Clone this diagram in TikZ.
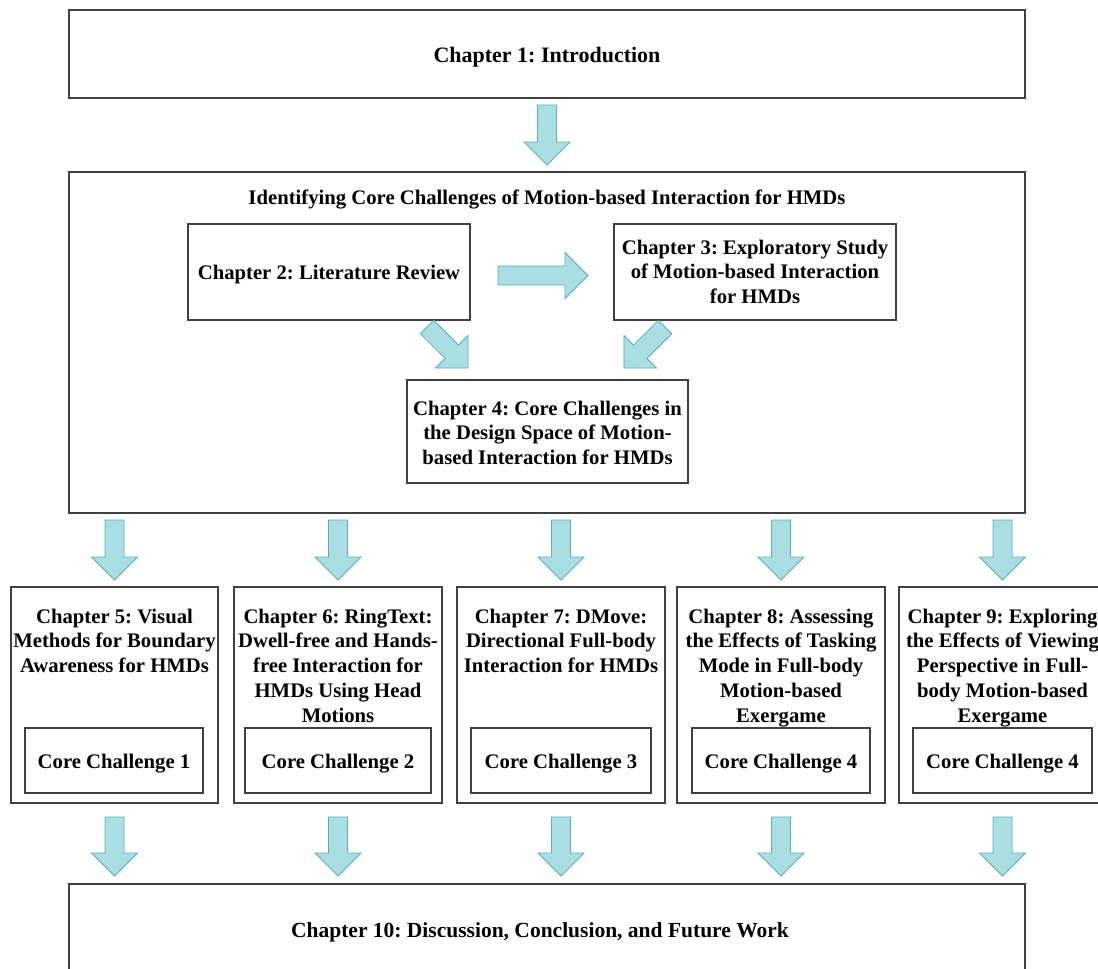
\documentclass[tikz,border=0pt]{standalone}
\usepackage{fontspec}
\setmainfont{Liberation Serif}
\frenchspacing
\definecolor{boxline}{HTML}{404040}
\definecolor{arrowc}{HTML}{A9DEE3}
\definecolor{arrowd}{HTML}{5DAEB4}
\begin{document}
\frenchspacing
\begin{tikzpicture}[x=1pt,y=1pt,
  box/.style={draw=boxline, line width=1.2pt, fill=white, inner sep=0pt},
  txt/.style={font=\fontsize{20.7}{24.7}\selectfont\bfseries, align=center, inner sep=0pt, text=black},
  bigtxt/.style={txt, font=\fontsize{22}{26}\selectfont\bfseries},
  endtxt/.style={txt, font=\fontsize{21.5}{26}\selectfont\bfseries},
  arrowfill/.style={fill=arrowc, draw=arrowd, line width=0.8pt, line join=miter},
  pics/barrow/.style={code={\path[arrowfill] (0,-9.5) -- (#1-23,-9.5) -- (#1-23,-23) -- (#1,0) -- (#1-23,23) -- (#1-23,9.5) -- (0,9.5) -- cycle;}}
]
\useasboundingbox (0,0) rectangle (1098,-969);
\clip (0,0) rectangle (1098,-969);
\fill[white] (0,0) rectangle (1098,-969);

% Chapter 1
\node[box, minimum width=956, minimum height=88] (c1) at (547,-54) {};
\node[bigtxt, anchor=base] (t1) at (547,-62) {Chapter 1: Introduction};

% big box
\node[box, minimum width=956, minimum height=341] (big) at (547,-342.5) {};
\node[txt, anchor=base] (tbig) at (547,-204) {Identifying Core Challenges of Motion-based Interaction for HMDs};

\node[box, minimum width=282, minimum height=96] (c2) at (329,-272) {};
\node[txt, anchor=base] (t2) at (329,-279) {Chapter 2: Literature Review};

\node[box, minimum width=282, minimum height=96] (c3) at (755,-272) {};
\node[txt, anchor=north] (t3) at (755,-239.7) {Chapter 3: Exploratory Study\\of Motion-based Interaction\\for HMDs};

\node[box, minimum width=281, minimum height=103] (c4) at (547.5,-431.5) {};
\node[txt, anchor=north] (t4) at (547.5,-400.7) {Chapter 4: Core Challenges in\\the Design Space of Motion-\\based Interaction for HMDs};

% bottom row
\node[box, minimum width=207, minimum height=216] (c5) at (114.5,-695) {};
\node[box, minimum width=208, minimum height=216] (c6) at (338,-695) {};
\node[box, minimum width=208, minimum height=216] (c7) at (561,-695) {};
\node[box, minimum width=208, minimum height=216] (c8) at (781,-695) {};
\node[box, minimum width=207, minimum height=216] (c9) at (1002.5,-695) {};

\node[txt, anchor=north] (t5) at (114.5,-608.7) {Chapter 5: Visual\\Methods for Boundary\\Awareness for HMDs};
\node[txt, anchor=north] (t6) at (338,-608.7) {Chapter 6: RingText:\\Dwell-free and Hands-\\free Interaction for\\HMDs Using Head\\Motions};
\node[txt, anchor=north] (t7) at (561,-608.7) {Chapter 7: DMove:\\Directional Full-body\\Interaction for HMDs};
\node[txt, anchor=north] (t8) at (781,-608.7) {Chapter 8: Assessing\\the Effects of Tasking\\Mode in Full-body\\Motion-based\\Exergame};
\node[txt, anchor=north] (t9) at (1002.5,-608.7) {Chapter 9: Exploring\\the Effects of Viewing\\Perspective in Full-\\body Motion-based\\Exergame};

\node[box, minimum width=178, minimum height=65] (i5) at (114,-760.5) {};
\node[box, minimum width=186, minimum height=65] (i6) at (338,-760.5) {};
\node[box, minimum width=180, minimum height=65] (i7) at (561,-760.5) {};
\node[box, minimum width=178, minimum height=65] (i8) at (781,-760.5) {};
\node[box, minimum width=179, minimum height=65] (i9) at (1002.5,-760.5) {};
\node[txt, anchor=base] (ti5) at (114,-768) {Core Challenge 1};
\node[txt, anchor=base] (ti6) at (338,-768) {Core Challenge 2};
\node[txt, anchor=base] (ti7) at (561,-768) {Core Challenge 3};
\node[txt, anchor=base] (ti8) at (781,-768) {Core Challenge 4};
\node[txt, anchor=base] (ti9) at (1002.5,-768) {Core Challenge 4};

% Chapter 10
\node[box, minimum width=956, minimum height=88] (c10) at (547,-928) {};
\node[endtxt, anchor=base] (t10) at (540,-937) {Chapter 10: Discussion, Conclusion, and Future Work};

% block arrows
\pic[rotate=-90] at (547,-105) {barrow=60};
\pic at (498,-275.5) {barrow=90};
\pic[rotate=-45] at (427,-327) {barrow=58};
\pic[rotate=-135] at (665,-327) {barrow=58};
\foreach \x in {114.5,338,561,781,1002.5}{
  \pic[rotate=-90] at (\x,-520) {barrow=60};
  \pic[rotate=-90] at (\x,-817) {barrow=59};
}
\end{tikzpicture}
\end{document}
